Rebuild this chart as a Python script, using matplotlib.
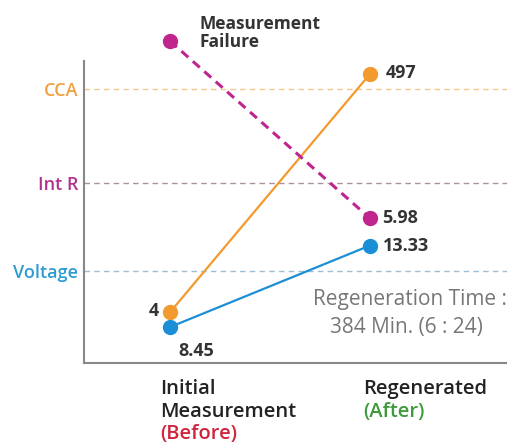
import matplotlib.pyplot as plt

plt.rcParams['font.family'] = ['Open Sans', 'DejaVu Sans']

# stages on the x axis
stages = [0, 1]
# relative levels (schematic, no numeric y axis)
cca_level = [16.8, 95.7]
voltage_level = [11.9, 38.9]
intr_level = [106.6, 47.9]

ref_names = ['Voltage', 'Int R', 'CCA']
ref_levels = [30.4, 59.7, 90.8]

cca_labels = ['4', '497']
voltage_labels = ['8.45', '13.33']
intr_labels = ['Measurement\nFailure', '5.98']

orange = '#F39A2E'
blue = '#1B8FD6'
magenta = '#C0258E'
ref_colors = ['#2E9BD2', '#B4308C', '#F0A040']
grid_colors = ['#9DBFD6', '#A8939F', '#F3C98F']

fig = plt.figure(figsize=(5.07, 4.45), dpi=100)
ax = fig.add_axes([84 / 507, (445 - 363) / 445, (507 - 84) / 507, (363 - 61) / 445])
ax.set_xlim(-0.43, 1.685)
ax.set_ylim(0, 100)

for lvl, gc in zip(ref_levels, grid_colors):
    ax.axhline(lvl, color=gc, lw=1.0, ls=(0, (4, 3)), zorder=1)

ax.plot(stages, cca_level, color=orange, lw=1.6, marker='o', ms=10, zorder=3)
ax.plot(stages, voltage_level, color=blue, lw=1.6, marker='o', ms=10, zorder=3)
ax.plot(stages, intr_level, color=magenta, lw=2.2, ls=(0, (3, 2)), marker='o', ms=10,
        zorder=3, clip_on=False)

dark = '#333333'
fs = 13
ax.annotate(cca_labels[0], (stages[0], cca_level[0]), xytext=(-8, 1), textcoords='offset points',
            ha='right', va='center', fontsize=fs, fontweight='bold', color=dark)
ax.annotate(cca_labels[1], (stages[1], cca_level[1]), xytext=(11, 1), textcoords='offset points',
            ha='left', va='center', fontsize=fs, fontweight='bold', color=dark)
ax.annotate(voltage_labels[0], (stages[0], voltage_level[0]), xytext=(6, -17), textcoords='offset points',
            ha='left', va='center', fontsize=fs, fontweight='bold', color=dark)
ax.annotate(voltage_labels[1], (stages[1], voltage_level[1]), xytext=(9, 0), textcoords='offset points',
            ha='left', va='center', fontsize=fs, fontweight='bold', color=dark)
ax.annotate(intr_labels[0], (stages[0], intr_level[0]), xytext=(21, 6), textcoords='offset points',
            ha='left', va='center', fontsize=12.5, fontweight='bold', color=dark,
            linespacing=1.0, annotation_clip=False)
ax.annotate(intr_labels[1], (stages[1], intr_level[1]), xytext=(9, 0), textcoords='offset points',
            ha='left', va='center', fontsize=fs, fontweight='bold', color=dark)

# note on the right, runs off the edge like the original
ax.text(0.541, 0.209, 'Regeneration Time :', transform=ax.transAxes,
        ha='left', va='center', fontsize=15, color='#777777')
ax.text(0.582, 0.119, '384 Min. (6 : 24)', transform=ax.transAxes,
        ha='left', va='center', fontsize=15, color='#777777')

ax.set_yticks(ref_levels)
ax.set_yticklabels(ref_names, fontsize=13, fontweight='semibold')
for lab, c in zip(ax.get_yticklabels(), ref_colors):
    lab.set_color(c)
ax.tick_params(axis='y', length=0, pad=4)
ax.set_xticks([])

for s in ['top', 'right']:
    ax.spines[s].set_visible(False)
for s in ['left', 'bottom']:
    ax.spines[s].set_color('#888888')
    ax.spines[s].set_linewidth(1.5)

xt = ax.get_xaxis_transform()
lines_before = [('Initial', '#222222'), ('Measurement', '#222222'), ('(Before)', '#D0243C')]
lines_after = [('Regenerated', '#222222'), ('(After)', '#3E9A3C')]
for i, (txt, c) in enumerate(lines_before):
    ax.annotate(txt, (-0.05, 0), xycoords=xt, xytext=(0, -19 - 16 * i), textcoords='offset points',
                ha='left', va='center', fontsize=14.5, fontweight='semibold', color=c,
                annotation_clip=False)
for i, (txt, c) in enumerate(lines_after):
    ax.annotate(txt, (0.965, 0), xycoords=xt, xytext=(0, -19 - 16 * i), textcoords='offset points',
                ha='left', va='center', fontsize=14.5, fontweight='semibold', color=c,
                annotation_clip=False)

fig.savefig('out.png', dpi=100)
